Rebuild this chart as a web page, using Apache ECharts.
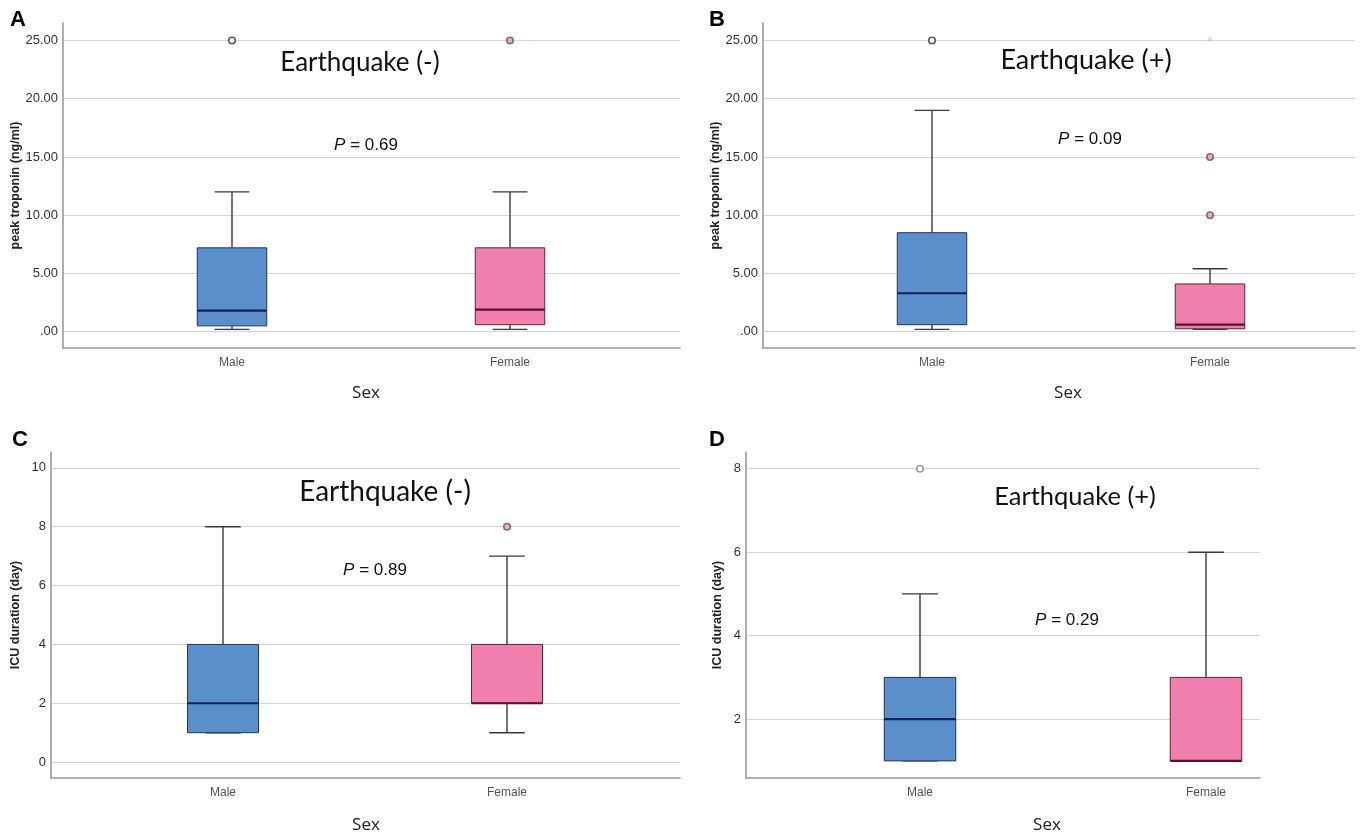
<!DOCTYPE html>
<html>
<head>
<meta charset="utf-8">
<script src="https://cdn.jsdelivr.net/npm/echarts@6/dist/echarts.min.js"></script>
<style>html,body{margin:0;padding:0;background:#fff;}#c{width:1371px;height:835px;}</style>
</head>
<body>
<div id="c"></div>
<script>
// ---- data ----
const categories = ['Male', 'Female'];
// [lower whisker, Q1, median, Q3, upper whisker]
const aMale = [0.2, 0.5, 1.8, 7.2, 12];
const aFemale = [0.2, 0.6, 1.9, 7.2, 12];
const aOutliers = [[0, 25], [1, 25]];
const aExtremes = [];

const bMale = [0.2, 0.6, 3.3, 8.5, 19];
const bFemale = [0.2, 0.25, 0.6, 4.1, 5.4];
const bOutliers = [[0, 25], [1, 15], [1, 10]];
const bExtremes = [[1, 25]];

const cMale = [1, 1, 2, 4, 8];
const cFemale = [1, 2, 2, 4, 7];
const cOutliers = [[1, 8]];
const cExtremes = [];

const dMale = [1, 1, 2, 3, 5];
const dFemale = [1, 1, 1, 3, 6];
const dOutliers = [[0, 8]];
const dExtremes = [];

const panelLetters = ['A', 'B', 'C', 'D'];
const panelTitles = ['Earthquake (-)', 'Earthquake (+)', 'Earthquake (-)', 'Earthquake (+)'];
const pValues = ['0.69', '0.09', '0.89', '0.29'];
const yNames = ['peak troponin (ng/ml)', 'peak troponin (ng/ml)', 'ICU duration (day)', 'ICU duration (day)'];
const xName = 'Sex';

// ---- layout / style ----
const panels = [
  { box: [aMale, aFemale], out: aOutliers, ext: aExtremes,
    outer: {l: 63, r: 680, t: 23, b: 348}, inner: {l: 93, r: 649},
    yMin: -1.4, yMax: 26.5, step: 5, dec: true, nameGap: 40,
    letter: [18, 20], title: [360, 63], titleSize: 26, p: [366, 145], sex: [366, 393],
    outColors: ['#333333', '#7a4a5e'] },
  { box: [bMale, bFemale], out: bOutliers, ext: bExtremes,
    outer: {l: 763, r: 1355, t: 23, b: 348}, inner: {l: 793, r: 1349},
    yMin: -1.4, yMax: 26.5, step: 5, dec: true, nameGap: 37,
    letter: [717, 20], title: [1086, 60], titleSize: 27, p: [1090, 139], sex: [1068, 393],
    outColors: ['#333333', '#7a4a5e'] },
  { box: [cMale, cFemale], out: cOutliers, ext: cExtremes,
    outer: {l: 51, r: 680, t: 452, b: 778}, inner: {l: 81, r: 649},
    yMin: -0.54, yMax: 10.54, step: 2, dec: false, nameGap: 29,
    letter: [20, 440], title: [385, 492], titleSize: 28, p: [375, 570], sex: [366, 825],
    outColors: ['#333333', '#7a4a5e'] },
  { box: [dMale, dFemale], out: dOutliers, ext: dExtremes,
    outer: {l: 746, r: 1260, t: 452, b: 778}, inner: {l: 777, r: 1349},
    yMin: 0.59, yMax: 8.4, step: 2, dec: false, nameGap: 22,
    letter: [717, 440], title: [1075, 497], titleSize: 25.5, p: [1067, 620], sex: [1047, 825],
    outColors: ['#888888', '#7a4a5e'] }
];

const fills = ['#5b8fcb', '#f07fae'];
const borders = ['#26344f', '#5a2438'];
const medians = ['#14205a', '#5e0d35'];

function renderBox(params, api) {
  const x = api.value(0);
  const band = api.size([1, 0])[0];
  const bw = band * 0.25;
  const cw = bw / 2;
  const lo = api.coord([x, api.value(1)]);
  const q1 = api.coord([x, api.value(2)]);
  const md = api.coord([x, api.value(3)]);
  const q3 = api.coord([x, api.value(4)]);
  const hi = api.coord([x, api.value(5)]);
  const cx = lo[0];
  const i = x;
  const ws = { stroke: '#3a3a3a', lineWidth: 1.4 };
  return {
    type: 'group',
    children: [
      { type: 'line', shape: { x1: cx, y1: hi[1], x2: cx, y2: q3[1] }, style: ws },
      { type: 'line', shape: { x1: cx, y1: q1[1], x2: cx, y2: lo[1] }, style: ws },
      { type: 'line', shape: { x1: cx - cw / 2, y1: hi[1], x2: cx + cw / 2, y2: hi[1] }, style: ws },
      { type: 'line', shape: { x1: cx - cw / 2, y1: lo[1], x2: cx + cw / 2, y2: lo[1] }, style: ws },
      { type: 'rect', shape: { x: cx - bw / 2, y: q3[1], width: bw, height: q1[1] - q3[1] },
        style: { fill: fills[i], stroke: borders[i], lineWidth: 1 } },
      { type: 'line', shape: { x1: cx - bw / 2, y1: md[1], x2: cx + bw / 2, y2: md[1] },
        style: { stroke: medians[i], lineWidth: 2.2 } }
    ]
  };
}

const grids = [], xAxes = [], yAxes = [], series = [], graphics = [];
panels.forEach((p, k) => {
  const h = p.outer.b - p.outer.t;
  const og = grids.length;
  grids.push({ left: p.outer.l, width: p.outer.r - p.outer.l, top: p.outer.t, height: h });
  grids.push({ left: p.inner.l, width: p.inner.r - p.inner.l, top: p.outer.t, height: h });
  const fmt = v => {
    const r = Math.round(v / p.step) * p.step;
    if (Math.abs(r - v) > 1e-6) return '';
    if (p.dec) return r === 0 ? '.00' : r.toFixed(2);
    return String(r);
  };
  xAxes.push({ gridIndex: og, type: 'category', data: categories,
    axisLine: { show: true, onZero: false, lineStyle: { color: '#9a9a9a', width: 1.6 } },
    axisTick: { show: false }, axisLabel: { show: false }, splitLine: { show: false } });
  yAxes.push({ gridIndex: og, type: 'value', min: p.yMin, max: p.yMax, splitNumber: 5,
    name: yNames[k], nameLocation: 'middle', nameGap: p.nameGap,
    nameTextStyle: { fontFamily: 'Liberation Sans, Arial', fontWeight: 'bold', fontSize: 12.5, color: '#222' },
    axisLine: { show: true, lineStyle: { color: '#9a9a9a', width: 1.6 } },
    axisTick: { show: false },
    axisLabel: { formatter: fmt, fontFamily: 'Liberation Sans, Arial', fontSize: 13, color: '#333', margin: 5 },
    splitLine: { show: true, showMinLine: false, showMaxLine: false, lineStyle: { color: '#d6d6d6', width: 1.2 } } });
  xAxes.push({ gridIndex: og + 1, type: 'category', data: categories,
    axisLine: { show: false, onZero: false }, axisTick: { show: false },
    axisLabel: { fontFamily: 'Liberation Sans, Arial', fontSize: 12, color: '#555', margin: 9 },
    splitLine: { show: false } });
  yAxes.push({ gridIndex: og + 1, type: 'value', min: p.yMin, max: p.yMax, splitNumber: 5, show: false,
    splitLine: { show: false } });
  const ai = xAxes.length - 1;
  series.push({ type: 'custom', xAxisIndex: ai, yAxisIndex: ai,
    encode: { x: 0, y: [1, 2, 3, 4, 5] },
    data: p.box.map((b, i) => [i].concat(b)),
    renderItem: renderBox, z: 3 });
  series.push({ type: 'scatter', xAxisIndex: ai, yAxisIndex: ai, symbol: 'circle', symbolSize: 6.5, z: 4,
    data: p.out.map(o => ({ value: o, itemStyle: { color: o[0] === 1 ? '#cfa9b8' : '#ffffff', borderColor: p.outColors[o[0]], borderWidth: 1.6 } })) });
  if (p.ext.length) {
    series.push({ type: 'scatter', xAxisIndex: ai, yAxisIndex: ai, symbolSize: 1, z: 4,
      itemStyle: { color: 'rgba(0,0,0,0)' },
      label: { show: true, position: 'inside', formatter: '*', color: '#e29ab4', fontSize: 12, offset: [0, 2] },
      data: p.ext });
  }
  graphics.push({ type: 'text', x: p.letter[0], y: p.letter[1],
    style: { text: panelLetters[k], font: 'bold 22px "Liberation Sans", Arial', fill: '#000', textAlign: 'center', textVerticalAlign: 'middle' } });
  graphics.push({ type: 'text', x: p.title[0], y: p.title[1],
    style: { text: panelTitles[k], font: p.titleSize + 'px Lato', fill: '#111', textAlign: 'center', textVerticalAlign: 'middle' } });
  graphics.push({ type: 'text', x: p.p[0], y: p.p[1],
    style: { text: '{i|P} = ' + pValues[k], textAlign: 'center', textVerticalAlign: 'middle',
      font: '17px "Liberation Sans", Arial', fill: '#111',
      rich: { i: { fontStyle: 'italic', fontSize: 17, fontFamily: 'Liberation Sans, Arial', fill: '#111' } } } });
  graphics.push({ type: 'text', x: p.sex[0], y: p.sex[1],
    style: { text: xName, font: '17px "Open Sans"', fill: '#222', textAlign: 'center', textVerticalAlign: 'middle' } });
});

const chart = echarts.init(document.getElementById('c'), null, { renderer: 'canvas' });
chart.setOption({
  animation: false,
  backgroundColor: '#ffffff',
  grid: grids, xAxis: xAxes, yAxis: yAxes, series: series,
  graphic: { elements: graphics }
});
</script>
</body>
</html>
